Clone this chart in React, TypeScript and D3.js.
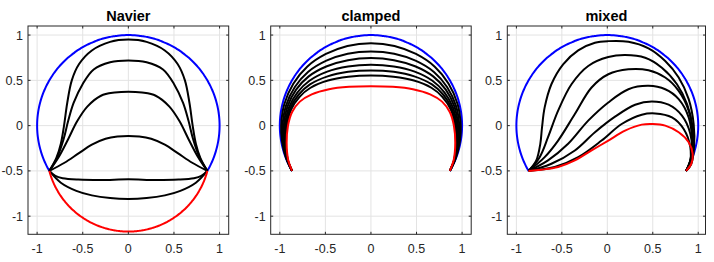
import React from "react";
import * as d3 from "d3";

type P = [number, number];

// ---------- data ----------
const panelTitles = ["Navier", "clamped", "mixed"];
const xTicks = [-1, -0.5, 0, 0.5, 1];
const yTicks = [-1, -0.5, 0, 0.5, 1];
const xLimits: P[] = [[-1.1, 1.1], [-1.1, 1.1], [-1.1, 1.08]];
const yLimits: P = [-1.2, 1.1];

// circular arcs (centre, radius, start/end angle in degrees)
const outerArc = { cx: 0, cy: 0, r: 1, from: 210, to: -30 };
const navierRedArc = { cx: 0, cy: -0.275, r: 0.895, from: 194.56, to: 345.44 };

const navierCurves: P[][] = [
  [[-0.866, -0.5], [-0.79, -0.36], [-0.74, -0.2], [-0.705, 0.0], [-0.67, 0.25], [-0.62, 0.5], [-0.54, 0.68], [-0.4, 0.83], [-0.2, 0.925], [0, 0.95],
   [0.2, 0.925], [0.4, 0.83], [0.54, 0.68], [0.62, 0.5], [0.67, 0.25], [0.705, 0.0], [0.74, -0.2], [0.79, -0.36], [0.866, -0.5]],
  [[-0.866, -0.5], [-0.78, -0.35], [-0.71, -0.15], [-0.66, 0.05], [-0.6, 0.25], [-0.5, 0.46], [-0.38, 0.62], [-0.2, 0.7], [0, 0.72],
   [0.2, 0.7], [0.38, 0.62], [0.5, 0.46], [0.6, 0.25], [0.66, 0.05], [0.71, -0.15], [0.78, -0.35], [0.866, -0.5]],
  [[-0.866, -0.5], [-0.76, -0.34], [-0.66, -0.15], [-0.56, 0.05], [-0.45, 0.21], [-0.3, 0.33], [-0.15, 0.365], [0, 0.375],
   [0.15, 0.365], [0.3, 0.33], [0.45, 0.21], [0.56, 0.05], [0.66, -0.15], [0.76, -0.34], [0.866, -0.5]],
  [[-0.866, -0.5], [-0.7, -0.41], [-0.55, -0.31], [-0.4, -0.21], [-0.25, -0.145], [-0.12, -0.12], [0, -0.115],
   [0.12, -0.12], [0.25, -0.145], [0.4, -0.21], [0.55, -0.31], [0.7, -0.41], [0.866, -0.5]],
  [[-0.866, -0.5], [-0.8, -0.555], [-0.72, -0.58], [-0.55, -0.595], [-0.3, -0.6], [0, -0.593],
   [0.3, -0.6], [0.55, -0.595], [0.72, -0.58], [0.8, -0.555], [0.866, -0.5]],
  [[-0.866, -0.5], [-0.74, -0.63], [-0.57, -0.72], [-0.4, -0.77], [-0.2, -0.8], [0, -0.81],
   [0.2, -0.8], [0.4, -0.77], [0.57, -0.72], [0.74, -0.63], [0.866, -0.5]],
];

const clampedCurves: P[][] = [
  [[-0.866, -0.5], [-0.934, -0.348], [-0.975, -0.176], [-0.985, -0.003], [-0.951, 0.236], [-0.852, 0.463], [-0.7, 0.651], [-0.494, 0.791], [-0.258, 0.88], [0, 0.91],
   [0.258, 0.88], [0.494, 0.791], [0.7, 0.651], [0.852, 0.463], [0.951, 0.236], [0.985, -0.003], [0.975, -0.176], [0.934, -0.348], [0.866, -0.5]],
  [[-0.866, -0.5], [-0.929, -0.356], [-0.964, -0.183], [-0.97, -0.006], [-0.932, 0.221], [-0.835, 0.426], [-0.691, 0.592], [-0.489, 0.717], [-0.255, 0.794], [0, 0.819],
   [0.255, 0.794], [0.489, 0.717], [0.691, 0.592], [0.835, 0.426], [0.932, 0.221], [0.97, -0.006], [0.964, -0.183], [0.929, -0.356], [0.866, -0.5]],
  [[-0.866, -0.5], [-0.924, -0.363], [-0.956, -0.188], [-0.957, -0.009], [-0.916, 0.21], [-0.821, 0.397], [-0.683, 0.544], [-0.484, 0.656], [-0.253, 0.723], [0, 0.746],
   [0.253, 0.723], [0.484, 0.656], [0.683, 0.544], [0.821, 0.397], [0.916, 0.21], [0.957, -0.009], [0.956, -0.188], [0.924, -0.363], [0.866, -0.5]],
  [[-0.866, -0.5], [-0.92, -0.369], [-0.947, -0.193], [-0.945, -0.012], [-0.9, 0.198], [-0.806, 0.367], [-0.675, 0.495], [-0.48, 0.596], [-0.251, 0.653], [0, 0.672],
   [0.251, 0.653], [0.48, 0.596], [0.675, 0.495], [0.806, 0.367], [0.9, 0.198], [0.945, -0.012], [0.947, -0.193], [0.92, -0.369], [0.866, -0.5]],
  [[-0.866, -0.5], [-0.916, -0.375], [-0.94, -0.198], [-0.934, -0.014], [-0.887, 0.188], [-0.794, 0.341], [-0.669, 0.455], [-0.476, 0.544], [-0.25, 0.594], [0, 0.61],
   [0.25, 0.594], [0.476, 0.544], [0.669, 0.455], [0.794, 0.341], [0.887, 0.188], [0.934, -0.014], [0.94, -0.198], [0.916, -0.375], [0.866, -0.5]],
  [[-0.866, -0.5], [-0.912, -0.38], [-0.936, -0.202], [-0.925, -0.016], [-0.875, 0.179], [-0.783, 0.318], [-0.663, 0.418], [-0.472, 0.498], [-0.248, 0.54], [0, 0.554],
   [0.248, 0.54], [0.472, 0.498], [0.663, 0.418], [0.783, 0.318], [0.875, 0.179], [0.925, -0.016], [0.936, -0.202], [0.912, -0.38], [0.866, -0.5]],
];
const clampedRed: P[] = [
  [-0.866, -0.5], [-0.908, -0.38], [-0.925, -0.19], [-0.91, 0.0], [-0.865, 0.15], [-0.78, 0.265], [-0.65, 0.345], [-0.46, 0.402], [-0.24, 0.428], [0, 0.435],
  [0.24, 0.428], [0.46, 0.402], [0.65, 0.345], [0.78, 0.265], [0.865, 0.15], [0.91, 0.0], [0.925, -0.19], [0.908, -0.38], [0.866, -0.5],
];

const mixedCurves: P[][] = [
  [[-0.866, -0.5], [-0.781, -0.384], [-0.737, -0.201], [-0.718, -0.018], [-0.689, 0.201], [-0.615, 0.457], [-0.486, 0.677], [-0.32, 0.831], [-0.136, 0.915], [0.011, 0.933],
   [0.232, 0.926], [0.453, 0.853], [0.637, 0.713], [0.785, 0.531], [0.895, 0.293], [0.95, 0.018], [0.954, -0.238], [0.924, -0.421], [0.866, -0.5]],
  [[-0.866, -0.5], [-0.744, -0.348], [-0.652, -0.128], [-0.541, 0.165], [-0.394, 0.457], [-0.21, 0.659], [0.011, 0.757], [0.195, 0.779], [0.416, 0.75],
   [0.6, 0.64], [0.766, 0.457], [0.877, 0.238], [0.939, -0.018], [0.939, -0.274], [0.913, -0.439], [0.866, -0.5]],
  [[-0.866, -0.5], [-0.689, -0.348], [-0.541, -0.165], [-0.357, 0.128], [-0.173, 0.421], [0.011, 0.567], [0.232, 0.622], [0.453, 0.611],
   [0.637, 0.531], [0.785, 0.384], [0.895, 0.165], [0.939, -0.091], [0.924, -0.348], [0.866, -0.5]],
  [[-0.866, -0.5], [-0.652, -0.384], [-0.431, -0.201], [-0.21, 0.055], [0.011, 0.256], [0.232, 0.402], [0.453, 0.439],
   [0.637, 0.402], [0.785, 0.293], [0.895, 0.091], [0.932, -0.165], [0.913, -0.384], [0.866, -0.5]],
  [[-0.866, -0.5], [-0.615, -0.421], [-0.357, -0.274], [-0.136, -0.073], [0.085, 0.099], [0.306, 0.231], [0.49, 0.267],
   [0.674, 0.231], [0.821, 0.11], [0.913, -0.091], [0.924, -0.348], [0.866, -0.5]],
  [[-0.866, -0.5], [-0.578, -0.457], [-0.32, -0.348], [-0.063, -0.165], [0.158, 0.018], [0.379, 0.121], [0.527, 0.135],
   [0.711, 0.091], [0.84, -0.037], [0.913, -0.238], [0.906, -0.421], [0.866, -0.5]],
];
const mixedRed: P[] = [
  [-0.866, -0.5], [-0.726, -0.487], [-0.541, -0.457], [-0.357, -0.384], [-0.173, -0.274], [0.011, -0.165], [0.195, -0.055], [0.379, 0.011],
  [0.501, 0.018], [0.637, 0.0], [0.785, -0.073], [0.895, -0.183], [0.939, -0.311], [0.924, -0.421], [0.866, -0.5],
];

// ---------- layout ----------
const W = 714;
const H = 262;
const boxLeft = [28, 270.7, 507.3];
const boxRight = [228.7, 471.2, 705.5];
const boxTop = 26;
const boxBottom = 234.3;
const FONT = "'Liberation Sans', Arial, Helvetica, sans-serif";
const AX = "#262626";
const GRID = "#e3e3e3";

type Arc = { cx: number; cy: number; r: number; from: number; to: number };
function arcPoints(a: Arc): P[] {
  return d3.range(0, 181).map((i) => {
    const t = ((a.from + ((a.to - a.from) * i) / 180) * Math.PI) / 180;
    return [a.cx + a.r * Math.cos(t), a.cy + a.r * Math.sin(t)] as P;
  });
}

const panelBlack = [navierCurves, clampedCurves, mixedCurves];
const panelRed = [arcPoints(navierRedArc), clampedRed, mixedRed];

function Panel({ i }: { i: number }) {
  const x = d3.scaleLinear().domain(xLimits[i]).range([boxLeft[i], boxRight[i]]);
  const y = d3.scaleLinear().domain(yLimits).range([boxBottom, boxTop]);
  const line = d3
    .line<P>()
    .x((d) => x(d[0]))
    .y((d) => y(d[1]))
    .curve(d3.curveCatmullRom.alpha(0.5));
  const L = x.range()[0];
  const R = x.range()[1];
  const tl = 2.5;
  const cxm = (L + R) / 2;
  return (
    <g>
      {xTicks.map((t) => (
        <line key={"gx" + t} x1={x(t)} x2={x(t)} y1={boxTop} y2={boxBottom} stroke={GRID} strokeWidth={1} />
      ))}
      {yTicks.map((t) => (
        <line key={"gy" + t} x1={L} x2={R} y1={y(t)} y2={y(t)} stroke={GRID} strokeWidth={1} />
      ))}
      <path d={line(arcPoints(outerArc)) || ""} fill="none" stroke="#0000ff" strokeWidth={2} />
      {panelBlack[i].map((c, k) => (
        <path key={k} d={line(c) || ""} fill="none" stroke="#000" strokeWidth={2} />
      ))}
      <path d={line(panelRed[i]) || ""} fill="none" stroke="#ff0000" strokeWidth={2} />
      <rect x={L} y={boxTop} width={R - L} height={boxBottom - boxTop} fill="none" stroke={AX} strokeWidth={1} />
      {xTicks.map((t) => (
        <g key={"tx" + t}>
          <line x1={x(t)} x2={x(t)} y1={boxBottom} y2={boxBottom - tl} stroke={AX} />
          <line x1={x(t)} x2={x(t)} y1={boxTop} y2={boxTop + tl} stroke={AX} />
          <text x={x(t)} y={252.5} textAnchor="middle" fontFamily={FONT} fontSize={12.5} fill={AX}>
            {String(t)}
          </text>
        </g>
      ))}
      {yTicks.map((t) => (
        <g key={"ty" + t}>
          <line x1={L} x2={L + tl} y1={y(t)} y2={y(t)} stroke={AX} />
          <line x1={R} x2={R - tl} y1={y(t)} y2={y(t)} stroke={AX} />
          <text x={L - 5} y={y(t)} dy="0.36em" textAnchor="end" fontFamily={FONT} fontSize={12.5} fill={AX}>
            {String(t)}
          </text>
        </g>
      ))}
      <text x={cxm} y={20.5} textAnchor="middle" fontFamily={FONT} fontSize={14.5} fontWeight="bold" fill="#000">
        {panelTitles[i]}
      </text>
    </g>
  );
}

export default function App() {
  return (
    <svg
      width={W}
      height={H}
      viewBox={`0 0 ${W} ${H}`}
      style={{ position: "absolute", left: 0, top: 0, background: "#fff" }}
    >
      <rect x={0} y={0} width={W} height={H} fill="#fff" />
      {[0, 1, 2].map((i) => (
        <Panel key={i} i={i} />
      ))}
    </svg>
  );
}
